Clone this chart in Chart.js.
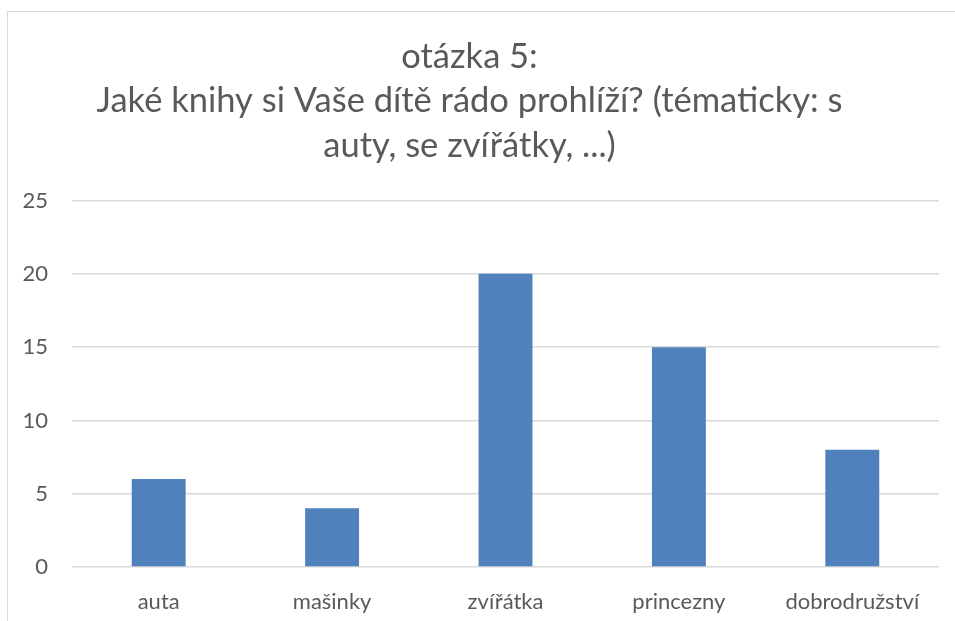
<!DOCTYPE html>
<html>
<head>
<meta charset="utf-8">
<script src="https://cdn.jsdelivr.net/npm/chart.js@4"></script>
<style>
  html, body { margin: 0; padding: 0; background: #fff; overflow: hidden; }
  #wrap { position: relative; width: 955px; height: 621px; }
  #frame { position: absolute; left: 7px; top: 11px; width: 1000px; height: 700px; border: 1px solid #d9d9d9; }
  #c { position: absolute; left: 0; top: 0; }
</style>
</head>
<body>
<div id="wrap">
  <div id="frame"></div>
  <canvas id="c" width="955" height="621"></canvas>
</div>
<script>
// chart data
const titleLines = ['otázka 5:', 'Jaké knihy si Vaše dítě rádo prohlíží? (tématicky: s', 'auty, se zvířátky, ...)'];
const categories = ['auta', 'mašinky', 'zvířátka', 'princezny', 'dobrodružství'];
const answers = [6, 4, 20, 15, 8];
const yTicks = [0, 5, 10, 15, 20, 25];

const font = 'Lato, "Open Sans", sans-serif';
const grey = '#595959';

new Chart(document.getElementById('c'), {
  type: 'bar',
  data: {
    labels: categories,
    datasets: [{
      data: answers,
      backgroundColor: '#4F81BD',
      categoryPercentage: 1,
      barPercentage: 0.311
    }]
  },
  options: {
    responsive: false,
    animation: false,
    layout: { padding: { left: 0, right: 16, top: 0, bottom: 0 } },
    plugins: {
      legend: { display: false },
      tooltip: { enabled: false },
      title: {
        display: true,
        text: titleLines,
        color: grey,
        font: { family: font, size: 34.5, weight: 'normal', lineHeight: 1.3 },
        padding: { top: 34, bottom: 32 }
      }
    },
    scales: {
      x: {
        grid: { display: false },
        border: { display: false },
        ticks: { color: grey, font: { family: font, size: 22 }, padding: 14, maxRotation: 0 },
        afterFit: s => { s.height = 54; }
      },
      y: {
        min: 0,
        max: 25,
        afterBuildTicks: s => { s.ticks = yTicks.map(v => ({ value: v })); },
        grid: { color: '#d9d9d9', lineWidth: 1.5, drawTicks: false },
        border: { display: false },
        ticks: { color: grey, font: { family: font, size: 22 }, padding: 24 },
        afterFit: s => { s.width = 72; }
      }
    }
  }
});
</script>
</body>
</html>
